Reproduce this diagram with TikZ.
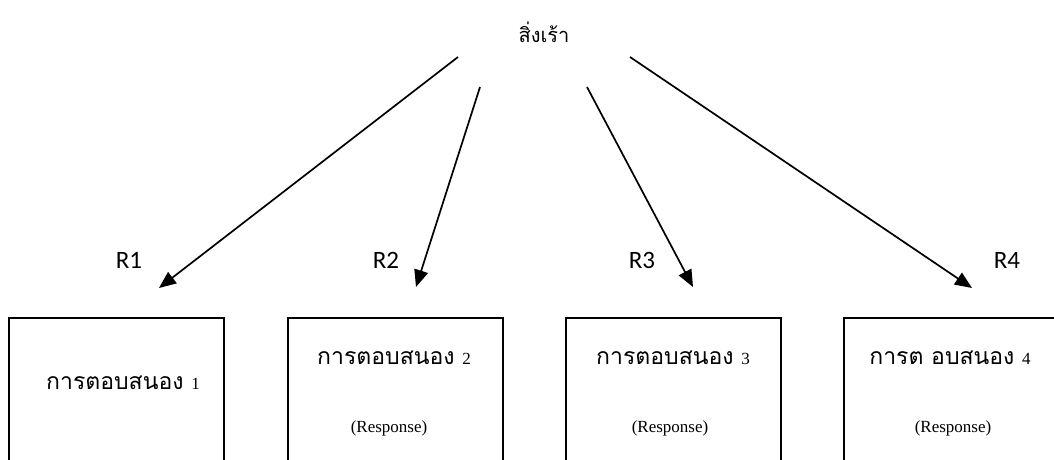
\documentclass[tikz,border=0pt]{standalone}
\usepackage{fontspec}
\setmainfont{Liberation Serif}
\newfontfamily\thaifont[Script=Thai]{Loma}
\newfontfamily\lblfont{Carlito}
\usetikzlibrary{arrows.meta}
\begin{document}
\begin{tikzpicture}[x=1pt,y=-1pt,
  respbox/.style={draw, line width=1.7pt, anchor=north west, minimum width=215pt, minimum height=180pt, inner sep=0pt},
  gapline/.style={line width=0.8pt},
  thaitext/.style={font=\thaifont\fontsize{23}{27}\selectfont, inner sep=0pt},
  engtext/.style={font=\rmfamily\fontsize{17}{20}\selectfont, inner sep=0pt},
  rlabel/.style={font=\lblfont\fontsize{25}{30}\selectfont, inner sep=0pt},
  stimtext/.style={font=\thaifont\fontsize{20}{24}\selectfont, inner sep=0pt},
  link/.style={line width=1.7pt, -{Triangle[length=17pt,width=14pt]}}]
\useasboundingbox (0,0) rectangle (1054,459);
\clip (0,0) rectangle (1054,459);
% boxes
\node[respbox] (b1) at (8,317) {};
\node[respbox] (b2) at (287,317) {};
\node[respbox] (b3) at (565,317) {};
\node[respbox] (b4) at (843,317) {};
% thin middle segments of top edges
\foreach \b/\o in {b1/85,b2/63,b3/43,b4/129}{
  \draw[white, line width=2.8pt] ([xshift=\o pt]\b.north west) -- ++(66,0);
  \draw[gapline] ([xshift=\o pt]\b.north west) -- ++(66,0);
}
% stimulus
\node[stimtext] (stim) at (544,32) {สิ่งเร้า};
% box texts
\node[thaitext] (t1) at (123,383) {การตอบสนอง {\rmfamily\fontsize{17}{20}\selectfont 1}};
\node[thaitext] (t2) at (394,358) {การตอบสนอง {\rmfamily\fontsize{17}{20}\selectfont 2}};
\node[thaitext] (t3) at (673,358) {การตอบสนอง {\rmfamily\fontsize{17}{20}\selectfont 3}};
\node[thaitext] (t4) at (950,358) {การต อบสนอง {\rmfamily\fontsize{17}{20}\selectfont 4}};
\node[engtext] (e2) at (389,428) {(Response)};
\node[engtext] (e3) at (670,428) {(Response)};
\node[engtext] (e4) at (953,428) {(Response)};
% labels
\node[rlabel] (r1) at (129,260) {R1};
\node[rlabel] (r2) at (386,260) {R2};
\node[rlabel] (r3) at (642,260) {R3};
\node[rlabel] (r4) at (1007,260) {R4};
% arrows
\coordinate (s1) at (458,57);  \coordinate (a1) at (159,288);
\coordinate (s2) at (480,87);  \coordinate (a2) at (416,287);
\coordinate (s3) at (587,87);  \coordinate (a3) at (693,287);
\coordinate (s4) at (630,57);  \coordinate (a4) at (972,288);
\draw[link] (s1) -- (a1);
\draw[link] (s2) -- (a2);
\draw[link] (s3) -- (a3);
\draw[link] (s4) -- (a4);
\end{tikzpicture}
\end{document}
